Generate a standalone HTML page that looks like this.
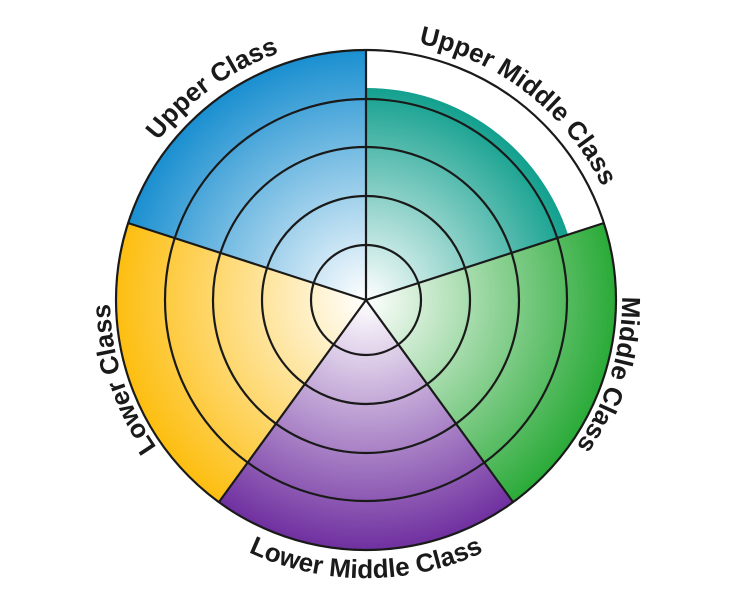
<!DOCTYPE html>
<html><head><meta charset="utf-8"><style>body{margin:0;background:#fff}svg{display:block}</style></head><body>
<svg width="732" height="600" viewBox="0 0 732 600" xmlns="http://www.w3.org/2000/svg">
<defs>
<radialGradient id="gb" cx="366" cy="300" r="250" gradientUnits="userSpaceOnUse"><stop offset="0" stop-color="#fff"/><stop offset="1" stop-color="#1a8fd0"/></radialGradient>
<radialGradient id="gt" cx="366" cy="300" r="212" gradientUnits="userSpaceOnUse"><stop offset="0" stop-color="#fff"/><stop offset="1" stop-color="#13a08e"/></radialGradient>
<radialGradient id="gg" cx="366" cy="300" r="250" gradientUnits="userSpaceOnUse"><stop offset="0" stop-color="#fff"/><stop offset="1" stop-color="#2aaa38"/></radialGradient>
<radialGradient id="gp" cx="366" cy="300" r="250" gradientUnits="userSpaceOnUse"><stop offset="0" stop-color="#fff"/><stop offset="1" stop-color="#7030a0"/></radialGradient>
<radialGradient id="gy" cx="366" cy="300" r="250" gradientUnits="userSpaceOnUse"><stop offset="0" stop-color="#fff"/><stop offset="1" stop-color="#fdbe10"/></radialGradient>
<path id="p1" d="M130.5,414.8 A262,262 0 0 1 548,111.6"/>
<path id="p2" d="M190.7,105.3 A262,262 0 0 1 597.3,423"/>
<path id="p3" d="M482.2,71.9 A256,256 0 0 1 334.8,554.1"/>
<path id="p4" d="M401.6,553.5 A256,256 0 0 1 245.8,74"/>
<path id="p5" d="M92.2,348.3 A278,278 0 0 0 639.8,348.3"/>
</defs>
<path d="M366,300 L128,223 A250,250 0 0 1 366,50 Z" fill="url(#gb)"/>
<path d="M366,300 L366,88 A212,212 0 0 1 568,234.5 Z" fill="url(#gt)"/>
<path d="M366,300 L604,223 A250,250 0 0 1 513,502 Z" fill="url(#gg)"/>
<path d="M366,300 L513,502 A250,250 0 0 1 219,502 Z" fill="url(#gp)"/>
<path d="M366,300 L219,502 A250,250 0 0 1 128,223 Z" fill="url(#gy)"/>
<g fill="none" stroke="#1a1a1a" stroke-width="2.2">
<circle cx="366" cy="300" r="250"/>
<circle cx="366" cy="300" r="201"/>
<circle cx="366" cy="300" r="153"/>
<circle cx="366" cy="300" r="104"/>
<circle cx="366" cy="300" r="55"/>
<path d="M366,300 L366,50 M366,300 L604,223 M366,300 L513,502 M366,300 L219,502 M366,300 L128,223"/>
</g>
<g font-family="Liberation Sans, sans-serif" font-weight="bold" font-size="26" fill="#1a1a1a" text-anchor="middle">
<text><textPath href="#p1" startOffset="50%">Upper Class</textPath></text>
<text><textPath href="#p2" startOffset="50%">Upper Middle Class</textPath></text>
<text><textPath href="#p3" startOffset="50%">Middle Class</textPath></text>
<text><textPath href="#p4" startOffset="50%">Lower Class</textPath></text>
<text><textPath href="#p5" startOffset="50%">Lower Middle Class</textPath></text>
</g>
</svg>
</body></html>
